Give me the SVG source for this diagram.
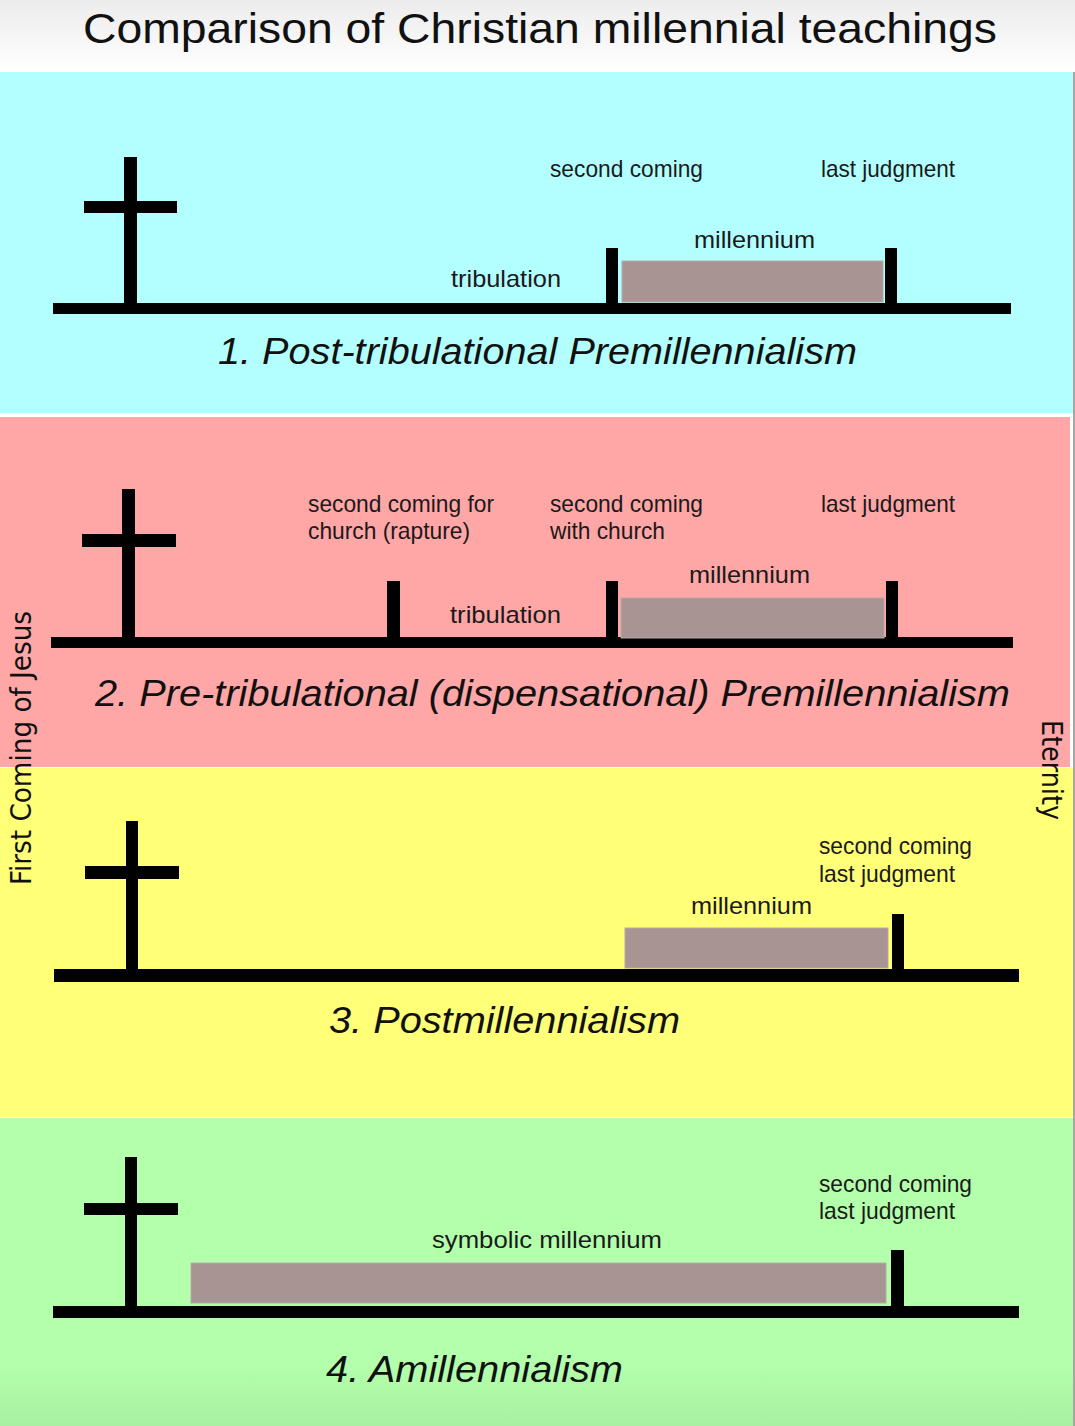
<svg xmlns="http://www.w3.org/2000/svg" width="1075" height="1426" viewBox="0 0 1075 1426">
<defs>
<linearGradient id="titleBg" x1="0" y1="0" x2="0" y2="1">
<stop offset="0" stop-color="#ececec"/>
<stop offset="1" stop-color="#ffffff"/>
</linearGradient>
<linearGradient id="greenBg" x1="0" y1="0" x2="0" y2="1">
<stop offset="0" stop-color="#b3ffab"/>
<stop offset="0.8" stop-color="#b3ffab"/>
<stop offset="1" stop-color="#a9f0a2"/>
</linearGradient>
<style>
.lbl{font-family:"Liberation Sans",Arial,sans-serif;font-size:24px;fill:#1a1a1a}
.ttl{font-family:"Liberation Sans",Arial,sans-serif;font-size:37px;font-style:italic;fill:#111}
.side{font-family:"DejaVu Sans Condensed","DejaVu Sans",sans-serif;font-stretch:condensed;font-size:29px;fill:#111}
.blk{fill:#000}
.mil{fill:#a99494;stroke:#b9a7a7;stroke-width:1}
</style>
</defs>

<g id="backgrounds">
<rect x="0" y="0" width="1075" height="1426" fill="#ffffff"/>
<rect x="0" y="0" width="1075" height="72" fill="url(#titleBg)"/>
<rect x="0" y="72" width="1073" height="341" fill="#b3ffff"/>
<rect x="0" y="417" width="1070" height="350" fill="#ffa6a6"/>
<rect x="0" y="768" width="1073" height="349" fill="#ffff78"/>
<rect x="0" y="1118" width="1073" height="308" fill="url(#greenBg)"/>
<line x1="1074" y1="72" x2="1074" y2="1426" stroke="#8a8a8a" stroke-width="1.5"/>
</g>

<g id="title">
<text x="83" y="43" font-family="Liberation Sans, Arial, sans-serif" font-size="43" fill="#111" textLength="914" lengthAdjust="spacingAndGlyphs">Comparison of Christian millennial teachings</text>
</g>

<g id="side-labels">
<text class="side" transform="translate(31,748) rotate(-90)" text-anchor="middle" textLength="274" lengthAdjust="spacingAndGlyphs">First Coming of Jesus</text>
<text class="side" transform="translate(1042,770) rotate(90)" text-anchor="middle" textLength="100" lengthAdjust="spacingAndGlyphs">Eternity</text>
</g>

<g id="connectors">
<rect class="blk" x="53" y="303" width="958" height="11"/>
<rect class="blk" x="51" y="637" width="962" height="11"/>
<rect class="blk" x="54" y="969" width="965" height="13"/>
<rect class="blk" x="53" y="1306" width="966" height="12"/>
</g>

<g id="panel1">
<g id="p1-cross"><rect class="blk" x="124" y="157" width="13" height="150"/><rect class="blk" x="84" y="201" width="93" height="12"/></g>
<g id="p1-second-coming"><rect class="blk" x="606" y="248" width="12" height="58"/><text class="lbl" x="550" y="177" textLength="153" lengthAdjust="spacingAndGlyphs">second coming</text></g>
<g id="p1-millennium"><rect class="mil" x="622" y="261" width="261" height="41"/><text class="lbl" x="694" y="248" textLength="121" lengthAdjust="spacingAndGlyphs">millennium</text></g>
<g id="p1-last-judgment"><rect class="blk" x="885" y="248" width="12" height="58"/><text class="lbl" x="821" y="177" textLength="134" lengthAdjust="spacingAndGlyphs">last judgment</text></g>
<g id="p1-tribulation"><text class="lbl" x="451" y="287" textLength="110" lengthAdjust="spacingAndGlyphs">tribulation</text></g>
<g id="p1-title"><text class="ttl" x="218" y="364" textLength="639" lengthAdjust="spacingAndGlyphs">1. Post-tribulational Premillennialism</text></g>
</g>

<g id="panel2">
<g id="p2-cross"><rect class="blk" x="122" y="489" width="13" height="152"/><rect class="blk" x="82" y="534" width="94" height="13"/></g>
<g id="p2-rapture"><rect class="blk" x="387" y="581" width="13" height="60"/><text class="lbl" x="308" y="512" textLength="186" lengthAdjust="spacingAndGlyphs">second coming for</text><text class="lbl" x="308" y="539" textLength="162" lengthAdjust="spacingAndGlyphs">church (rapture)</text></g>
<g id="p2-second-coming"><rect class="blk" x="606" y="581" width="12" height="60"/><text class="lbl" x="550" y="512" textLength="153" lengthAdjust="spacingAndGlyphs">second coming</text><text class="lbl" x="550" y="539" textLength="115" lengthAdjust="spacingAndGlyphs">with church</text></g>
<g id="p2-millennium"><rect class="mil" x="621" y="598" width="263" height="40"/><text class="lbl" x="689" y="583" textLength="121" lengthAdjust="spacingAndGlyphs">millennium</text></g>
<g id="p2-last-judgment"><rect class="blk" x="886" y="581" width="12" height="60"/><text class="lbl" x="821" y="512" textLength="134" lengthAdjust="spacingAndGlyphs">last judgment</text></g>
<g id="p2-tribulation"><text class="lbl" x="450" y="623" textLength="111" lengthAdjust="spacingAndGlyphs">tribulation</text></g>
<g id="p2-title"><text class="ttl" x="95" y="706" textLength="915" lengthAdjust="spacingAndGlyphs">2. Pre-tribulational (dispensational) Premillennialism</text></g>
</g>

<g id="panel3">
<g id="p3-cross"><rect class="blk" x="126" y="821" width="12" height="152"/><rect class="blk" x="85" y="866" width="94" height="13"/></g>
<g id="p3-millennium"><rect class="mil" x="625" y="928" width="263" height="40"/><text class="lbl" x="691" y="914" textLength="121" lengthAdjust="spacingAndGlyphs">millennium</text></g>
<g id="p3-second-coming-last-judgment"><rect class="blk" x="892" y="914" width="12" height="58"/><text class="lbl" x="819" y="854" textLength="153" lengthAdjust="spacingAndGlyphs">second coming</text><text class="lbl" x="819" y="882" textLength="136" lengthAdjust="spacingAndGlyphs">last judgment</text></g>
<g id="p3-title"><text class="ttl" x="329" y="1033" textLength="351" lengthAdjust="spacingAndGlyphs">3. Postmillennialism</text></g>
</g>

<g id="panel4">
<g id="p4-cross"><rect class="blk" x="125" y="1157" width="12" height="152"/><rect class="blk" x="84" y="1203" width="94" height="12"/></g>
<g id="p4-symbolic-millennium"><rect class="mil" x="191" y="1263" width="695" height="40"/><text class="lbl" x="432" y="1248" textLength="230" lengthAdjust="spacingAndGlyphs">symbolic millennium</text></g>
<g id="p4-second-coming-last-judgment"><rect class="blk" x="891" y="1250" width="13" height="60"/><text class="lbl" x="819" y="1192" textLength="153" lengthAdjust="spacingAndGlyphs">second coming</text><text class="lbl" x="819" y="1219" textLength="136" lengthAdjust="spacingAndGlyphs">last judgment</text></g>
<g id="p4-title"><text class="ttl" x="326" y="1382" textLength="297" lengthAdjust="spacingAndGlyphs">4. Amillennialism</text></g>
</g>
</svg>
